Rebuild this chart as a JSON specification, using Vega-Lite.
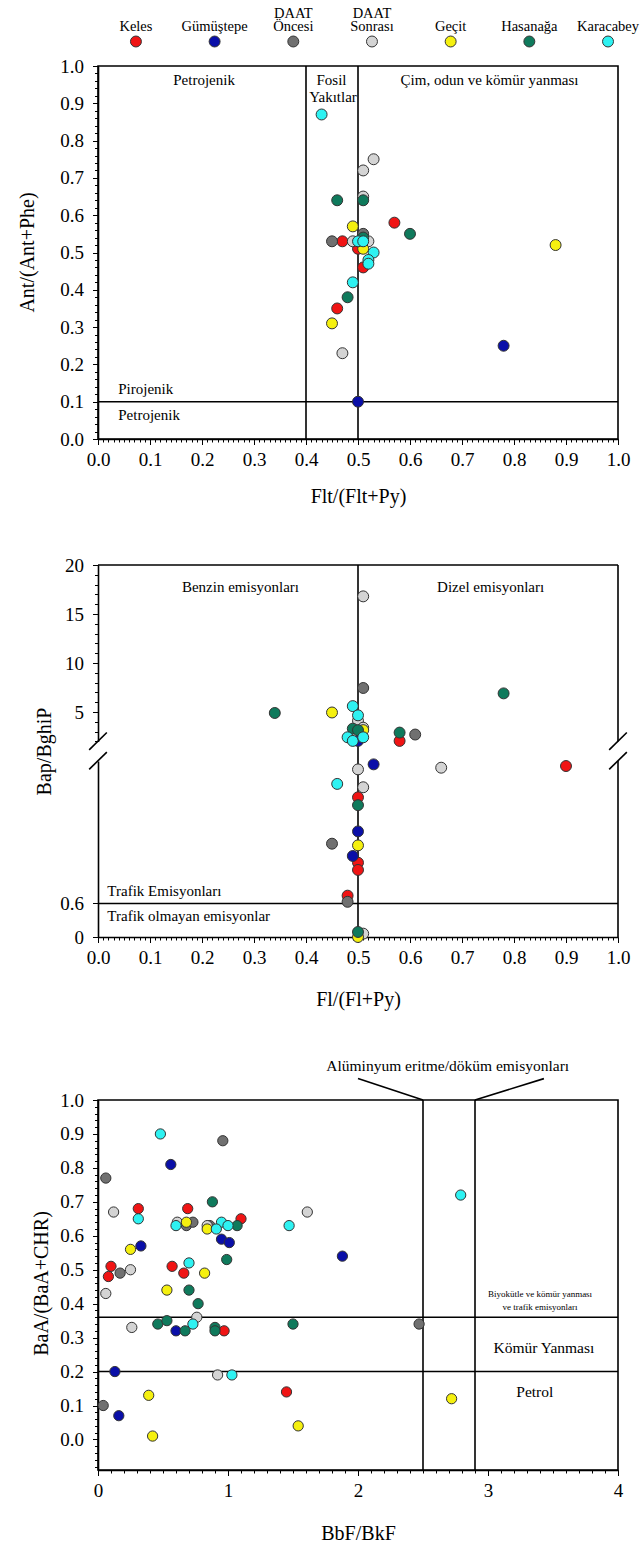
{
  "$schema": "https://vega.github.io/schema/vega-lite/v6.json",
  "padding": {"left": 16, "top": 5.5, "right": 0, "bottom": 0},
  "config": {
    "font": "Liberation Serif",
    "view": {"stroke": "#000", "strokeWidth": 1.6},
    "axis": {
      "domainColor": "#000", "domainWidth": 1.6, "tickColor": "#000", "tickWidth": 1,
      "labelColor": "#000", "titleColor": "#000", "labelFontSize": 19, "titleFontSize": 20,
      "titleFontWeight": "normal", "grid": false, "labelFlush": false, "labelOverlap": false
    }
  },
  "datasets": {
    "legend": [
      {"g": "Keles", "l1": "", "l2": "Keles"},
      {"g": "Gümüştepe", "l1": "", "l2": "Gümüştepe"},
      {"g": "DAAT Öncesi", "l1": "DAAT", "l2": "Öncesi"},
      {"g": "DAAT Sonrası", "l1": "DAAT", "l2": "Sonrası"},
      {"g": "Geçit", "l1": "", "l2": "Geçit"},
      {"g": "Hasanağa", "l1": "", "l2": "Hasanağa"},
      {"g": "Karacabey", "l1": "", "l2": "Karacabey"}
    ],
    "p1": [
      {"g": "Keles", "x": 0.57, "y": 0.58}, {"g": "Keles", "x": 0.47, "y": 0.53}, {"g": "Keles", "x": 0.50, "y": 0.51},
      {"g": "Keles", "x": 0.51, "y": 0.46}, {"g": "Keles", "x": 0.46, "y": 0.35},
      {"g": "Gümüştepe", "x": 0.78, "y": 0.25}, {"g": "Gümüştepe", "x": 0.50, "y": 0.10},
      {"g": "DAAT Öncesi", "x": 0.45, "y": 0.53}, {"g": "DAAT Öncesi", "x": 0.51, "y": 0.55},
      {"g": "DAAT Sonrası", "x": 0.53, "y": 0.75}, {"g": "DAAT Sonrası", "x": 0.51, "y": 0.72}, {"g": "DAAT Sonrası", "x": 0.51, "y": 0.65},
      {"g": "DAAT Sonrası", "x": 0.49, "y": 0.53}, {"g": "DAAT Sonrası", "x": 0.52, "y": 0.53}, {"g": "DAAT Sonrası", "x": 0.47, "y": 0.23},
      {"g": "Geçit", "x": 0.49, "y": 0.57}, {"g": "Geçit", "x": 0.51, "y": 0.51}, {"g": "Geçit", "x": 0.88, "y": 0.52}, {"g": "Geçit", "x": 0.45, "y": 0.31},
      {"g": "Hasanağa", "x": 0.46, "y": 0.64}, {"g": "Hasanağa", "x": 0.51, "y": 0.64}, {"g": "Hasanağa", "x": 0.60, "y": 0.55},
      {"g": "Hasanağa", "x": 0.51, "y": 0.54}, {"g": "Hasanağa", "x": 0.48, "y": 0.38},
      {"g": "Karacabey", "x": 0.43, "y": 0.87}, {"g": "Karacabey", "x": 0.50, "y": 0.53}, {"g": "Karacabey", "x": 0.51, "y": 0.53},
      {"g": "Karacabey", "x": 0.53, "y": 0.50}, {"g": "Karacabey", "x": 0.52, "y": 0.48}, {"g": "Karacabey", "x": 0.52, "y": 0.47},
      {"g": "Karacabey", "x": 0.49, "y": 0.42}
    ],
    "vlines1": [{"x": 0.4}, {"x": 0.5}],
    "hlines1": [{"y": 0.1}],
    "notes1c": [
      {"t": "Petrojenik", "x": 0.204, "y": 0.962},
      {"t": "Fosil", "x": 0.449, "y": 0.962},
      {"t": "Yakıtlar", "x": 0.452, "y": 0.918},
      {"t": "Çim, odun ve kömür yanması", "x": 0.753, "y": 0.962}
    ],
    "notes1l": [
      {"t": "Pirojenik", "x": 0.039, "y": 0.134},
      {"t": "Petrojenik", "x": 0.039, "y": 0.064}
    ],
    "p2": [
      {"g": "Keles", "x": 0.58, "y": 2.05, "seg": "u"}, {"g": "Keles", "x": 0.90, "y": 3.06, "seg": "l"},
      {"g": "Keles", "x": 0.50, "y": 2.50, "seg": "l"}, {"g": "Keles", "x": 0.50, "y": 1.33, "seg": "l"},
      {"g": "Keles", "x": 0.50, "y": 1.20, "seg": "l"}, {"g": "Keles", "x": 0.48, "y": 0.74, "seg": "l"},
      {"g": "Gümüştepe", "x": 0.50, "y": 2.05, "seg": "u"}, {"g": "Gümüştepe", "x": 0.53, "y": 3.09, "seg": "l"},
      {"g": "Gümüştepe", "x": 0.50, "y": 1.89, "seg": "l"}, {"g": "Gümüştepe", "x": 0.49, "y": 1.45, "seg": "l"},
      {"g": "DAAT Öncesi", "x": 0.51, "y": 7.45, "seg": "u"}, {"g": "DAAT Öncesi", "x": 0.61, "y": 2.70, "seg": "u"},
      {"g": "DAAT Öncesi", "x": 0.45, "y": 1.67, "seg": "l"}, {"g": "DAAT Öncesi", "x": 0.48, "y": 0.63, "seg": "l"},
      {"g": "DAAT Sonrası", "x": 0.51, "y": 16.8, "seg": "u"}, {"g": "DAAT Sonrası", "x": 0.50, "y": 4.1, "seg": "u"},
      {"g": "DAAT Sonrası", "x": 0.51, "y": 3.4, "seg": "u"}, {"g": "DAAT Sonrası", "x": 0.66, "y": 3.03, "seg": "l"},
      {"g": "DAAT Sonrası", "x": 0.50, "y": 3.00, "seg": "l"}, {"g": "DAAT Sonrası", "x": 0.51, "y": 2.68, "seg": "l"},
      {"g": "DAAT Sonrası", "x": 0.51, "y": 0.06, "seg": "l"},
      {"g": "Geçit", "x": 0.45, "y": 4.95, "seg": "u"}, {"g": "Geçit", "x": 0.51, "y": 3.15, "seg": "u"},
      {"g": "Geçit", "x": 0.50, "y": 1.64, "seg": "l"}, {"g": "Geçit", "x": 0.50, "y": 0.0, "seg": "l"},
      {"g": "Hasanağa", "x": 0.78, "y": 6.9, "seg": "u"}, {"g": "Hasanağa", "x": 0.34, "y": 4.9, "seg": "u"},
      {"g": "Hasanağa", "x": 0.49, "y": 3.3, "seg": "u"}, {"g": "Hasanağa", "x": 0.50, "y": 3.15, "seg": "u"},
      {"g": "Hasanağa", "x": 0.58, "y": 2.9, "seg": "u"}, {"g": "Hasanağa", "x": 0.50, "y": 2.36, "seg": "l"},
      {"g": "Hasanağa", "x": 0.50, "y": 0.09, "seg": "l"},
      {"g": "Karacabey", "x": 0.49, "y": 5.6, "seg": "u"}, {"g": "Karacabey", "x": 0.50, "y": 4.66, "seg": "u"},
      {"g": "Karacabey", "x": 0.48, "y": 2.42, "seg": "u"}, {"g": "Karacabey", "x": 0.49, "y": 2.05, "seg": "u"},
      {"g": "Karacabey", "x": 0.51, "y": 2.42, "seg": "u"}, {"g": "Karacabey", "x": 0.46, "y": 2.74, "seg": "l"}
    ],
    "lines2u": [
      {"x": 0, "x2": 1, "y": 20, "y2": 20},
      {"x": 1, "x2": 1, "y": 2, "y2": 20},
      {"x": 0.5, "x2": 0.5, "y": 0, "y2": 20}
    ],
    "lines2l": [
      {"x": 1, "x2": 1, "y": 0, "y2": 3.15},
      {"x": 0.5, "x2": 0.5, "y": 0, "y2": 3.15},
      {"x": 0, "x2": 1, "y": 0.6, "y2": 0.6},
      {"x": -0.017, "x2": 0.017, "y": 3.35, "y2": 3.66},
      {"x": -0.017, "x2": 0.017, "y": 3.0, "y2": 3.31},
      {"x": 0.983, "x2": 1.017, "y": 3.35, "y2": 3.66},
      {"x": 0.983, "x2": 1.017, "y": 3.0, "y2": 3.31}
    ],
    "notes2u": [
      {"t": "Benzin emisyonları", "x": 0.274, "y": 17.75},
      {"t": "Dizel emisyonları", "x": 0.755, "y": 17.75}
    ],
    "notes2l": [
      {"t": "Trafik Emisyonları", "x": 0.018, "y": 0.82},
      {"t": "Trafik olmayan emisyonlar", "x": 0.018, "y": 0.375}
    ],
    "p3": [
      {"g": "Keles", "x": 0.31, "y": 0.68}, {"g": "Keles", "x": 0.69, "y": 0.68}, {"g": "Keles", "x": 1.10, "y": 0.65},
      {"g": "Keles", "x": 0.10, "y": 0.51}, {"g": "Keles", "x": 0.08, "y": 0.48}, {"g": "Keles", "x": 0.57, "y": 0.51},
      {"g": "Keles", "x": 0.66, "y": 0.49}, {"g": "Keles", "x": 0.97, "y": 0.32}, {"g": "Keles", "x": 1.45, "y": 0.14},
      {"g": "Gümüştepe", "x": 0.56, "y": 0.81}, {"g": "Gümüştepe", "x": 1.88, "y": 0.54}, {"g": "Gümüştepe", "x": 0.95, "y": 0.59},
      {"g": "Gümüştepe", "x": 1.01, "y": 0.58}, {"g": "Gümüştepe", "x": 0.33, "y": 0.57}, {"g": "Gümüştepe", "x": 0.60, "y": 0.32},
      {"g": "Gümüştepe", "x": 0.13, "y": 0.20}, {"g": "Gümüştepe", "x": 0.16, "y": 0.07},
      {"g": "DAAT Öncesi", "x": 0.06, "y": 0.77}, {"g": "DAAT Öncesi", "x": 0.96, "y": 0.88}, {"g": "DAAT Öncesi", "x": 0.68, "y": 0.63},
      {"g": "DAAT Öncesi", "x": 0.73, "y": 0.64}, {"g": "DAAT Öncesi", "x": 0.86, "y": 0.63}, {"g": "DAAT Öncesi", "x": 0.17, "y": 0.49},
      {"g": "DAAT Öncesi", "x": 2.47, "y": 0.34}, {"g": "DAAT Öncesi", "x": 0.04, "y": 0.10},
      {"g": "DAAT Sonrası", "x": 0.12, "y": 0.67}, {"g": "DAAT Sonrası", "x": 1.61, "y": 0.67}, {"g": "DAAT Sonrası", "x": 0.61, "y": 0.64},
      {"g": "DAAT Sonrası", "x": 0.84, "y": 0.63}, {"g": "DAAT Sonrası", "x": 0.25, "y": 0.50}, {"g": "DAAT Sonrası", "x": 0.06, "y": 0.43},
      {"g": "DAAT Sonrası", "x": 0.76, "y": 0.36}, {"g": "DAAT Sonrası", "x": 0.26, "y": 0.33}, {"g": "DAAT Sonrası", "x": 0.92, "y": 0.19},
      {"g": "Geçit", "x": 0.68, "y": 0.64}, {"g": "Geçit", "x": 0.84, "y": 0.62}, {"g": "Geçit", "x": 0.25, "y": 0.56},
      {"g": "Geçit", "x": 0.82, "y": 0.49}, {"g": "Geçit", "x": 0.53, "y": 0.44}, {"g": "Geçit", "x": 0.39, "y": 0.13},
      {"g": "Geçit", "x": 2.72, "y": 0.12}, {"g": "Geçit", "x": 1.54, "y": 0.04}, {"g": "Geçit", "x": 0.42, "y": 0.01},
      {"g": "Hasanağa", "x": 0.88, "y": 0.70}, {"g": "Hasanağa", "x": 1.07, "y": 0.63}, {"g": "Hasanağa", "x": 0.99, "y": 0.53},
      {"g": "Hasanağa", "x": 0.70, "y": 0.44}, {"g": "Hasanağa", "x": 0.77, "y": 0.40}, {"g": "Hasanağa", "x": 0.46, "y": 0.34},
      {"g": "Hasanağa", "x": 0.53, "y": 0.35}, {"g": "Hasanağa", "x": 0.67, "y": 0.32}, {"g": "Hasanağa", "x": 0.90, "y": 0.33},
      {"g": "Hasanağa", "x": 0.90, "y": 0.32}, {"g": "Hasanağa", "x": 1.50, "y": 0.34},
      {"g": "Karacabey", "x": 0.48, "y": 0.90}, {"g": "Karacabey", "x": 2.79, "y": 0.72}, {"g": "Karacabey", "x": 0.31, "y": 0.65},
      {"g": "Karacabey", "x": 1.47, "y": 0.63}, {"g": "Karacabey", "x": 0.60, "y": 0.63}, {"g": "Karacabey", "x": 0.95, "y": 0.64},
      {"g": "Karacabey", "x": 0.91, "y": 0.62}, {"g": "Karacabey", "x": 1.00, "y": 0.63}, {"g": "Karacabey", "x": 0.70, "y": 0.52},
      {"g": "Karacabey", "x": 0.73, "y": 0.34}, {"g": "Karacabey", "x": 1.03, "y": 0.19}
    ],
    "vlines3": [{"x": 2.5}, {"x": 2.9}],
    "hlines3": [{"y": 0.36}, {"y": 0.2}],
    "leaders3": [
      {"x": 2.0, "x2": 2.5, "y": 1.063, "y2": 1.0},
      {"x": 2.9, "x2": 3.43, "y": 1.0, "y2": 1.063}
    ],
    "notes3": [
      {"t": "Alüminyum eritme/döküm emisyonları", "x": 2.69, "y": 1.10},
      {"t": "Kömür Yanması", "x": 3.43, "y": 0.268},
      {"t": "Petrol", "x": 3.36, "y": 0.14}
    ],
    "notes3s": [
      {"t": "Biyokütle ve kömür yanması", "x": 3.4, "y": 0.428},
      {"t": "ve trafik emisyonları", "x": 3.4, "y": 0.39}
    ]
  },
  "spacing": 6.5,
  "vconcat": [
    {
      "width": 530, "height": 12,
      "view": {"stroke": null},
      "data": {"name": "legend"},
      "encoding": {
        "x": {"field": "g", "type": "nominal", "sort": null, "scale": {"type": "point", "padding": 0.368, "align": 0.655}, "axis": null}
      },
      "layer": [
        {
          "mark": {"type": "point", "filled": true, "size": 120, "stroke": "#333", "strokeWidth": 1, "opacity": 1},
          "encoding": {
            "color": {"field": "g", "type": "nominal", "legend": null,
              "scale": {"domain": ["Keles", "Gümüştepe", "DAAT Öncesi", "DAAT Sonrası", "Geçit", "Hasanağa", "Karacabey"],
                        "range": ["#f01414", "#0a0fa8", "#707070", "#d4d4d4", "#f5f00f", "#0f7a5c", "#2ef2f2"]}}
          }
        },
        {
          "mark": {"type": "text", "baseline": "alphabetic", "dy": -24, "fontSize": 14.5, "color": "#000"},
          "encoding": {"text": {"field": "l1"}}
        },
        {
          "mark": {"type": "text", "baseline": "alphabetic", "dy": -11, "fontSize": 14.5, "color": "#000"},
          "encoding": {"text": {"field": "l2"}}
        }
      ]
    },
    {
      "spacing": 48,
      "vconcat": [
        {
          "width": 520, "height": 373,
          "layer": [
            {
              "data": {"name": "vlines1"},
              "mark": {"type": "rule", "strokeWidth": 1.6, "color": "#000"},
              "encoding": {
                "x": {"field": "x", "type": "quantitative", "scale": {"domain": [0, 1], "nice": false, "zero": false},
                      "axis": {"orient": "bottom", "tickCount": 100, "labels": false, "domain": false, "tickSize": 3, "title": null}}
              }
            },
            {
              "data": {"name": "hlines1"},
              "mark": {"type": "rule", "strokeWidth": 1.6, "color": "#000"},
              "encoding": {
                "y": {"field": "y", "type": "quantitative", "scale": {"domain": [0, 1], "nice": false, "zero": false},
                      "axis": {"orient": "left", "tickCount": 50, "labels": false, "domain": false, "tickSize": 3.5, "title": null}}
              }
            },
            {
              "data": {"name": "p1"},
              "mark": {"type": "point", "filled": true, "size": 120, "stroke": "#333", "strokeWidth": 1, "opacity": 1},
              "encoding": {
                "x": {"field": "x", "type": "quantitative", "scale": {"domain": [0, 1], "nice": false, "zero": false},
                      "axis": {"orient": "bottom", "values": [0, 0.1, 0.2, 0.3, 0.4, 0.5, 0.6, 0.7, 0.8, 0.9, 1], "format": ".1f",
                               "tickSize": 5.5, "labelPadding": 6, "title": "Flt/(Flt+Py)", "titlePadding": 17}},
                "y": {"field": "y", "type": "quantitative", "scale": {"domain": [0, 1], "nice": false, "zero": false},
                      "axis": {"orient": "left", "values": [0, 0.1, 0.2, 0.3, 0.4, 0.5, 0.6, 0.7, 0.8, 0.9, 1], "format": ".1f",
                               "tickSize": 5.5, "labelPadding": 9, "title": "Ant/(Ant+Phe)", "titleX": -61, "titleY": 186}},
                "color": {"field": "g", "type": "nominal", "legend": null,
                  "scale": {"domain": ["Keles", "Gümüştepe", "DAAT Öncesi", "DAAT Sonrası", "Geçit", "Hasanağa", "Karacabey"],
                            "range": ["#f01414", "#0a0fa8", "#707070", "#d4d4d4", "#f5f00f", "#0f7a5c", "#2ef2f2"]}}
              }
            },
            {
              "data": {"name": "notes1c"},
              "mark": {"type": "text", "align": "center", "baseline": "middle", "fontSize": 15, "color": "#000"},
              "encoding": {
                "x": {"field": "x", "type": "quantitative", "scale": {"domain": [0, 1], "nice": false, "zero": false}, "axis": null},
                "y": {"field": "y", "type": "quantitative", "scale": {"domain": [0, 1], "nice": false, "zero": false}, "axis": null},
                "text": {"field": "t"}
              }
            },
            {
              "data": {"name": "notes1l"},
              "mark": {"type": "text", "align": "left", "baseline": "middle", "fontSize": 15, "color": "#000"},
              "encoding": {
                "x": {"field": "x", "type": "quantitative", "scale": {"domain": [0, 1], "nice": false, "zero": false}, "axis": null},
                "y": {"field": "y", "type": "quantitative", "scale": {"domain": [0, 1], "nice": false, "zero": false}, "axis": null},
                "text": {"field": "t"}
              }
            }
          ],
          "resolve": {"axis": {"x": "independent", "y": "independent"}}
        },
        {
          "width": 520, "height": 372,
          "view": {"stroke": null},
          "layer": [
            {
              "layer": [
                {
                  "data": {"name": "lines2u"},
                  "mark": {"type": "rule", "strokeWidth": 1.6, "color": "#000"},
                  "encoding": {
                    "x": {"field": "x", "type": "quantitative", "scale": {"domain": [0, 1], "nice": false, "zero": false}, "axis": null},
                    "x2": {"field": "x2"},
                    "y": {"field": "y", "type": "quantitative", "scale": {"domain": [2, 20], "range": [176.4, 0], "nice": false, "zero": false},
                          "axis": {"orient": "left", "tickCount": 18, "labels": false, "domain": false, "tickSize": 3.5, "title": null}},
                    "y2": {"field": "y2"}
                  }
                },
                {
                  "data": {"name": "p2"},
                  "transform": [{"filter": "datum.seg == 'u'"}],
                  "mark": {"type": "point", "filled": true, "size": 120, "stroke": "#333", "strokeWidth": 1, "opacity": 1},
                  "encoding": {
                    "x": {"field": "x", "type": "quantitative", "scale": {"domain": [0, 1], "nice": false, "zero": false}, "axis": null},
                    "y": {"field": "y", "type": "quantitative", "scale": {"domain": [2, 20], "range": [176.4, 0], "nice": false, "zero": false},
                          "axis": {"orient": "left", "values": [5, 10, 15, 20], "format": "d", "tickSize": 5.5, "labelPadding": 9,
                                   "title": "Bap/BghiP", "titleX": -44, "titleY": 186}},
                    "color": {"field": "g", "type": "nominal", "legend": null,
                      "scale": {"domain": ["Keles", "Gümüştepe", "DAAT Öncesi", "DAAT Sonrası", "Geçit", "Hasanağa", "Karacabey"],
                                "range": ["#f01414", "#0a0fa8", "#707070", "#d4d4d4", "#f5f00f", "#0f7a5c", "#2ef2f2"]}}
                  }
                },
                {
                  "data": {"name": "notes2u"},
                  "mark": {"type": "text", "align": "center", "baseline": "middle", "fontSize": 15, "color": "#000"},
                  "encoding": {
                    "x": {"field": "x", "type": "quantitative", "scale": {"domain": [0, 1], "nice": false, "zero": false}, "axis": null},
                    "y": {"field": "y", "type": "quantitative", "scale": {"domain": [2, 20], "range": [176.4, 0], "nice": false, "zero": false}, "axis": null},
                    "text": {"field": "t"}
                  }
                }
              ],
              "resolve": {"axis": {"x": "independent", "y": "independent"}}
            },
            {
              "layer": [
                {
                  "data": {"name": "lines2l"},
                  "mark": {"type": "rule", "strokeWidth": 1.6, "color": "#000"},
                  "encoding": {
                    "x": {"field": "x", "type": "quantitative", "scale": {"domain": [0, 1], "nice": false, "zero": false},
                          "axis": {"orient": "bottom", "tickCount": 100, "labels": false, "domain": false, "tickSize": 3, "title": null}},
                    "x2": {"field": "x2"},
                    "y": {"field": "y", "type": "quantitative", "scale": {"domain": [0, 3.15], "range": [372, 196], "nice": false, "zero": false}, "axis": null},
                    "y2": {"field": "y2"}
                  }
                },
                {
                  "data": {"name": "p2"},
                  "transform": [{"filter": "datum.seg == 'l'"}],
                  "mark": {"type": "point", "filled": true, "size": 120, "stroke": "#333", "strokeWidth": 1, "opacity": 1},
                  "encoding": {
                    "x": {"field": "x", "type": "quantitative", "scale": {"domain": [0, 1], "nice": false, "zero": false},
                          "axis": {"orient": "bottom", "values": [0, 0.1, 0.2, 0.3, 0.4, 0.5, 0.6, 0.7, 0.8, 0.9, 1], "format": ".1f",
                                   "tickSize": 5.5, "labelPadding": 6, "title": "Fl/(Fl+Py)", "titlePadding": 22}},
                    "y": {"field": "y", "type": "quantitative", "scale": {"domain": [0, 3.15], "range": [372, 196], "nice": false, "zero": false},
                          "axis": {"orient": "left", "values": [0, 0.6], "format": "~g", "tickSize": 5.5, "labelPadding": 9, "title": null}},
                    "color": {"field": "g", "type": "nominal", "legend": null,
                      "scale": {"domain": ["Keles", "Gümüştepe", "DAAT Öncesi", "DAAT Sonrası", "Geçit", "Hasanağa", "Karacabey"],
                                "range": ["#f01414", "#0a0fa8", "#707070", "#d4d4d4", "#f5f00f", "#0f7a5c", "#2ef2f2"]}}
                  }
                },
                {
                  "data": {"name": "notes2l"},
                  "mark": {"type": "text", "align": "left", "baseline": "middle", "fontSize": 15, "color": "#000"},
                  "encoding": {
                    "x": {"field": "x", "type": "quantitative", "scale": {"domain": [0, 1], "nice": false, "zero": false}, "axis": null},
                    "y": {"field": "y", "type": "quantitative", "scale": {"domain": [0, 3.15], "range": [372, 196], "nice": false, "zero": false}, "axis": null},
                    "text": {"field": "t"}
                  }
                }
              ],
              "resolve": {"axis": {"x": "independent", "y": "independent"}}
            }
          ],
          "resolve": {"scale": {"y": "independent"}, "axis": {"x": "independent", "y": "independent"}}
        },
        {
          "width": 520, "height": 370,
          "layer": [
            {
              "data": {"name": "vlines3"},
              "mark": {"type": "rule", "strokeWidth": 1.6, "color": "#000"},
              "encoding": {
                "x": {"field": "x", "type": "quantitative", "scale": {"domain": [0, 4], "nice": false, "zero": false},
                      "axis": {"orient": "bottom", "tickCount": 40, "labels": false, "domain": false, "tickSize": 3, "title": null}}
              }
            },
            {
              "data": {"name": "hlines3"},
              "mark": {"type": "rule", "strokeWidth": 1.6, "color": "#000"},
              "encoding": {
                "y": {"field": "y", "type": "quantitative", "scale": {"domain": [-0.09, 1], "nice": false, "zero": false},
                      "axis": {"orient": "left", "tickCount": 55, "labels": false, "domain": false, "tickSize": 3.5, "title": null}}
              }
            },
            {
              "data": {"name": "leaders3"},
              "mark": {"type": "rule", "strokeWidth": 1.6, "color": "#000"},
              "encoding": {
                "x": {"field": "x", "type": "quantitative", "scale": {"domain": [0, 4], "nice": false, "zero": false}, "axis": null},
                "x2": {"field": "x2"},
                "y": {"field": "y", "type": "quantitative", "scale": {"domain": [-0.09, 1], "nice": false, "zero": false}, "axis": null},
                "y2": {"field": "y2"}
              }
            },
            {
              "data": {"name": "p3"},
              "mark": {"type": "point", "filled": true, "size": 105, "stroke": "#333", "strokeWidth": 1, "opacity": 1},
              "encoding": {
                "x": {"field": "x", "type": "quantitative", "scale": {"domain": [0, 4], "nice": false, "zero": false},
                      "axis": {"orient": "bottom", "values": [0, 1, 2, 3, 4], "format": "d", "tickSize": 5.5, "labelPadding": 6,
                               "title": "BbF/BkF", "titlePadding": 23}},
                "y": {"field": "y", "type": "quantitative", "scale": {"domain": [-0.09, 1], "nice": false, "zero": false},
                      "axis": {"orient": "left", "values": [0, 0.1, 0.2, 0.3, 0.4, 0.5, 0.6, 0.7, 0.8, 0.9, 1], "format": ".1f",
                               "tickSize": 5.5, "labelPadding": 9, "title": "BaA/(BaA+CHR)", "titleX": -47, "titleY": 183}},
                "color": {"field": "g", "type": "nominal", "legend": null,
                  "scale": {"domain": ["Keles", "Gümüştepe", "DAAT Öncesi", "DAAT Sonrası", "Geçit", "Hasanağa", "Karacabey"],
                            "range": ["#f01414", "#0a0fa8", "#707070", "#d4d4d4", "#f5f00f", "#0f7a5c", "#2ef2f2"]}}
              }
            },
            {
              "data": {"name": "notes3"},
              "mark": {"type": "text", "align": "center", "baseline": "middle", "fontSize": 15.5, "color": "#000"},
              "encoding": {
                "x": {"field": "x", "type": "quantitative", "scale": {"domain": [0, 4], "nice": false, "zero": false}, "axis": null},
                "y": {"field": "y", "type": "quantitative", "scale": {"domain": [-0.09, 1], "nice": false, "zero": false}, "axis": null},
                "text": {"field": "t"}
              }
            },
            {
              "data": {"name": "notes3s"},
              "mark": {"type": "text", "align": "center", "baseline": "middle", "fontSize": 9, "color": "#000"},
              "encoding": {
                "x": {"field": "x", "type": "quantitative", "scale": {"domain": [0, 4], "nice": false, "zero": false}, "axis": null},
                "y": {"field": "y", "type": "quantitative", "scale": {"domain": [-0.09, 1], "nice": false, "zero": false}, "axis": null},
                "text": {"field": "t"}
              }
            }
          ],
          "resolve": {"axis": {"x": "independent", "y": "independent"}}
        }
      ]
    }
  ]
}
